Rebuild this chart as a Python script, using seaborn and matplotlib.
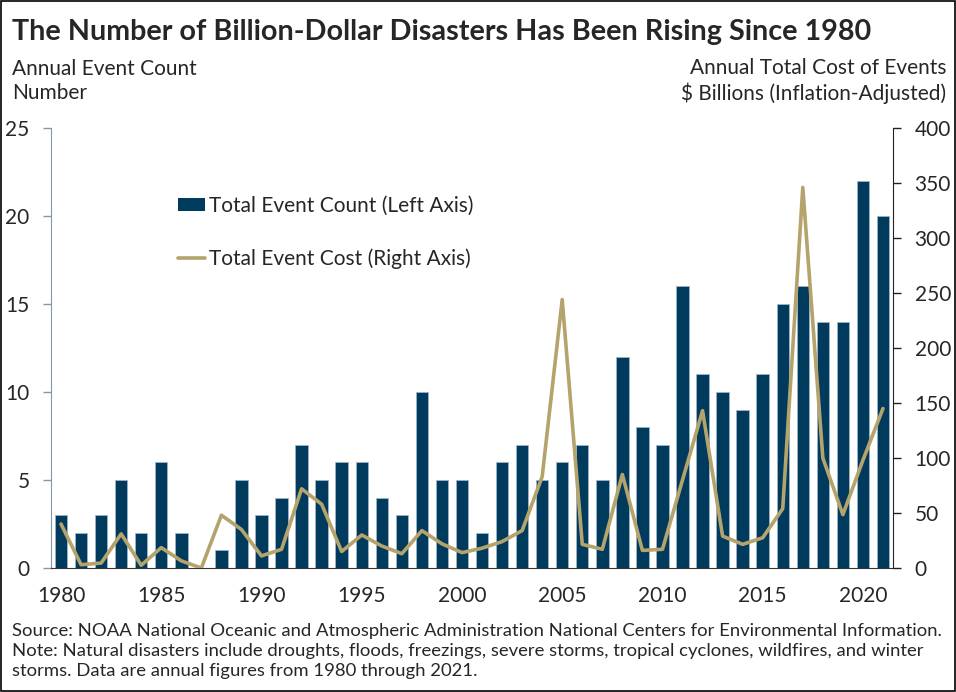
import numpy as np
import pandas as pd
import seaborn as sns
import matplotlib.pyplot as plt
from matplotlib.lines import Line2D
from matplotlib.patches import Patch, Rectangle

sns.set_style("white")
plt.rcParams["font.family"] = ["Lato", "DejaVu Sans"]

# data
years = list(range(1980, 2022))
event_count = [3, 2, 3, 5, 2, 6, 2, 0, 1, 5, 3, 4, 7, 5, 6, 6, 4, 3, 10, 5,
               5, 2, 6, 7, 5, 6, 7, 5, 12, 8, 7, 16, 11, 10, 9, 11, 15, 16, 14, 14,
               22, 20]
event_cost = [40, 3, 4.5, 31, 2.5, 18.5, 6.5, 0, 48, 35, 11, 17, 72, 58, 15, 30,
              20, 13, 34, 22, 14, 18, 24, 34, 83, 244, 21.5, 17, 85, 16, 17, 80,
              143, 29, 21.5, 27.5, 54, 346, 100, 48.5, 98, 145]
year_labels = ["1980", "1985", "1990", "1995", "2000", "2005", "2010", "2015", "2020"]

title = "The Number of Billion-Dollar Disasters Has Been Rising Since 1980"
left_label = "Annual Event Count\nNumber"
right_label = "Annual Total Cost of Events\n$ Billions (Inflation-Adjusted)"
notes = ("Source: NOAA National Oceanic and Atmospheric Administration National Centers for Environmental Information.\n"
         "Note: Natural disasters include droughts, floods, freezings, severe storms, tropical cyclones, wildfires, and winter\n"
         "storms. Data are annual figures from 1980 through 2021.")

navy = "#003a5d"
gold = "#b5a36c"

df = pd.DataFrame({"year": [str(y) for y in years], "count": event_count, "cost": event_cost})
df["pos"] = np.arange(len(df))

fig = plt.figure(figsize=(9.56, 6.92), dpi=100)
ax = fig.add_axes([51 / 956, 1 - 568 / 692, (893 - 51) / 956, (568 - 128) / 692])

sns.barplot(data=df, x="year", y="count", color=navy, saturation=1, width=0.62,
            edgecolor="#9fb3c8", linewidth=0.6, ax=ax)
ax.set_ylim(0, 25)
ax.set_xlim(-0.5, len(df) - 0.5)
ax.set_yticks([0, 5, 10, 15, 20, 25])
ax.set_xticks([years.index(int(y)) for y in year_labels])
ax.set_xticklabels(year_labels)
ax.set_xticks(np.arange(len(df) + 1) - 0.5, minor=True)
ax.tick_params(axis="x", which="major", length=0, pad=13, labelsize=15)
ax.tick_params(axis="x", which="minor", length=5.5, width=1, color="#333333", direction="out")
ax.tick_params(axis="y", length=5.5, width=1, color="#8a96a8", pad=10, labelsize=15, left=True)
ax.set_xlabel("")
ax.set_ylabel("")
ax.spines["top"].set_visible(False)
ax.spines["right"].set_visible(False)
ax.spines["left"].set_color("#8a96a8")
ax.spines["bottom"].set_color("#333333")

ax2 = ax.twinx()
sns.lineplot(data=df, x="pos", y="cost", color=gold, linewidth=2.6, ax=ax2)
ax2.set_ylim(0, 400)
ax2.set_xlim(-0.5, len(df) - 0.5)
ax2.set_yticks(range(0, 401, 50))
ax2.tick_params(axis="y", length=5.5, width=1, color="#222222", pad=10, labelsize=15, right=True)
ax2.set_ylabel("")
ax2.set_xlabel("")
for s in ["top", "left", "bottom"]:
    ax2.spines[s].set_visible(False)
ax2.spines["right"].set_color("#222222")

handles = [Patch(facecolor=navy, edgecolor="none"),
           Line2D([0], [0], color=gold, linewidth=2.6)]
ax.legend(handles, ["Total Event Count (Left Axis)", "Total Event Cost (Right Axis)"],
          loc="upper left", bbox_to_anchor=(0.128, 0.888), frameon=False,
          fontsize=15, handlelength=1.3, handleheight=0.6, handletextpad=0.2,
          labelspacing=1.55)

fig.text(12 / 956, 1 - 32 / 692, title, fontsize=20.7, fontweight="bold", va="center", ha="left")
fig.text(12 / 956, 1 - 81 / 692, left_label, fontsize=15, va="center", ha="left", linespacing=1.3)
fig.text(946 / 956, 1 - 81 / 692, right_label, fontsize=15, va="center", ha="right",
         multialignment="right", linespacing=1.3)
fig.text(12 / 956, 1 - 651 / 692, notes, fontsize=13.3, va="center", ha="left", linespacing=1.28)

fig.patches.append(Rectangle((0.001, 0.001), 0.998, 0.998, transform=fig.transFigure,
                             fill=False, edgecolor="black", linewidth=1.2))

fig.savefig("out.png", dpi=100)
